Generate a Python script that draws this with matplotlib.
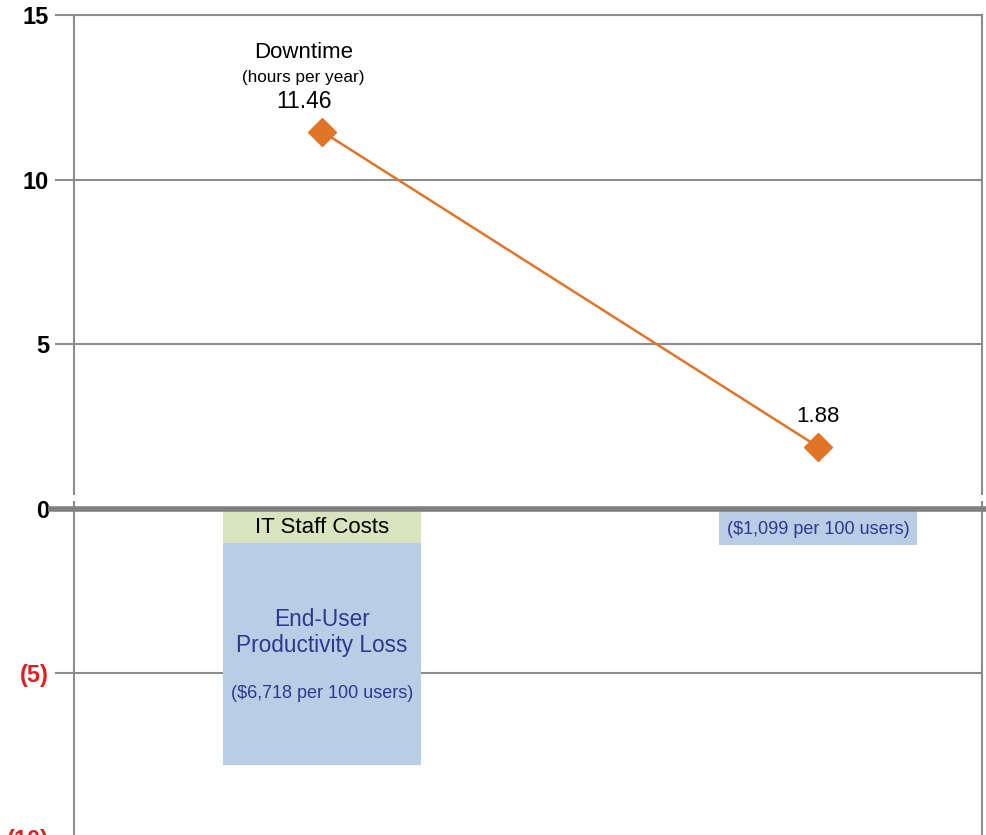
import matplotlib
matplotlib.use("Agg")
import matplotlib.pyplot as plt
from matplotlib.patches import Rectangle

plt.rcParams['font.family'] = ['Liberation Sans', 'DejaVu Sans']

# data
positions = [0, 1]
downtime = [11.46, 1.88]
downtime_labels = ["11.46", "1.88"]
it_staff = [1.05, 0.0]
end_user = [6.718, 1.099]
cost_labels = ["($6,718 per 100 users)", "($1,099 per 100 users)"]
ytick_vals = [-10, -5, 0, 5, 10, 15]
ytick_labels = ["(10)", "(5)", "0", "5", "10", "15"]

GRID = "#8c8c8c"
ORANGE = "#e07528"
GREEN = "#d7e4bd"
BLUE = "#b9cde5"
NAVY = "#2b3990"
RED = "#e02020"

W, H = 987, 835
fig = plt.figure(figsize=(W / 100, H / 100), dpi=100)
# axes box in pixels: x 74..982, y 15..838 (bottom runs past the figure edge)
ax = fig.add_axes([74 / W, (H - 838) / H, (982 - 74) / W, (838 - 15) / H])
ax.set_xlim(-0.5, 1.33)
ax.set_ylim(-10, 15)

for s in ax.spines.values():
    s.set_color(GRID)
    s.set_linewidth(1.5)
ax.spines['bottom'].set_visible(False)

ax.set_yticks(ytick_vals)
ax.set_yticklabels(ytick_labels, fontsize=17, fontweight='bold')
for lab, v in zip(ax.get_yticklabels(), ytick_vals):
    lab.set_color(RED if v < 0 else 'black')
ax.tick_params(axis='y', length=14, width=1.5, color=GRID, pad=4)
ax.set_xticks([])

for v in ytick_vals:
    if v != 0:
        ax.axhline(v, color=GRID, lw=1.5, zorder=0)

# stacked cost bars (negative direction)
neg_staff = [-v for v in it_staff]
neg_user = [-v for v in end_user]
ax.bar(positions, neg_staff, width=0.4, color=GREEN, zorder=1)
ax.bar(positions, neg_user, width=0.4, bottom=neg_staff, color=BLUE, zorder=1)

# zero line, reaching a bit past the axes on both sides
ax.plot([-0.553, 1.345], [0, 0], color="#7f7f7f", lw=4, clip_on=False,
        solid_capstyle='butt', zorder=3)

# small break in the vertical axis lines just above zero
for xb in [-0.5, 1.33]:
    ax.add_patch(Rectangle((xb - 0.006, 0.25), 0.012, 0.18, color='white',
                           clip_on=False, zorder=4, lw=0))

ax.plot(positions, downtime, color=ORANGE, lw=1.8, marker='D', markersize=14,
        markerfacecolor=ORANGE, markeredgecolor=ORANGE, zorder=5)

# series title sits a little left of the first point
tx = positions[0] - 0.037
ax.text(tx, downtime[0] + 2.39, "Downtime", ha='center', va='center', fontsize=16)
ax.text(tx, downtime[0] + 1.63, "(hours per year)", ha='center', va='center', fontsize=12.3)
ax.text(tx, downtime[0] + 0.92, downtime_labels[0], ha='center', va='center', fontsize=16.5)
ax.text(positions[1], downtime[1] + 0.92, downtime_labels[1], ha='center', va='center', fontsize=16)

ax.text(positions[0], -0.58, "IT Staff Costs", ha='center', va='center', fontsize=16)
ax.text(positions[0], -3.37, "End-User", ha='center', va='center', fontsize=16.3, color=NAVY)
ax.text(positions[0], -4.16, "Productivity Loss", ha='center', va='center', fontsize=16.3, color=NAVY)
ax.text(positions[0], -5.62, cost_labels[0], ha='center', va='center', fontsize=13, color=NAVY)
ax.text(positions[1], -0.64, cost_labels[1], ha='center', va='center', fontsize=13, color=NAVY)

fig.savefig("out.png", dpi=100)
